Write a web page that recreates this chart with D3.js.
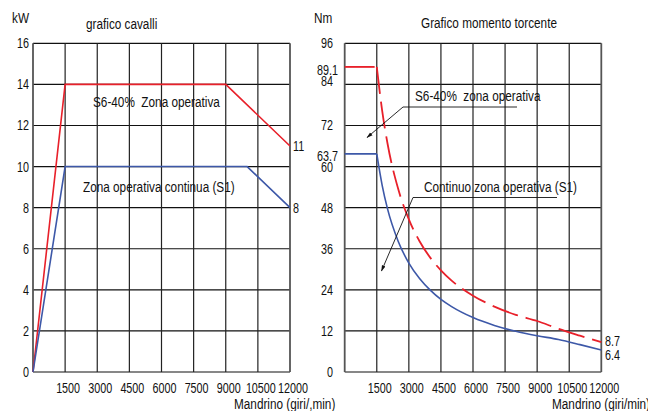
<!DOCTYPE html>
<html>
<head>
<meta charset="utf-8">
<script src="https://cdn.jsdelivr.net/npm/d3@7"></script>
<style>
  body { margin: 0; background: #fff; }
  svg text { font-family: "Liberation Sans", Arial, sans-serif; fill: #111; font-size: 14px; }
</style>
</head>
<body>
<svg></svg>
<script>
// two spindle charts: power (kW) and torque (Nm) vs spindle speed
const width = 648, height = 411;
const svg = d3.select("svg").attr("width", width).attr("height", height);

// data
const speedTicks = [1500, 3000, 4500, 6000, 7500, 9000, 10500, 12000];
const kwTicks = [0, 2, 4, 6, 8, 10, 12, 14, 16];
const nmTicks = [0, 12, 24, 36, 48, 60, 72, 84, 96];

const powerS6 = [[0, 0], [1500, 14], [9000, 14], [12000, 11]];
const powerS1 = [[0, 0], [1500, 10], [10000, 10], [12000, 8]];

const torqueS6Flat = [[0, 89.1], [1400, 89.1]];
const torqueS6 = [[1500, 89.1], [1750, 76.4], [2000, 66.8], [2500, 53.5], [3000, 44.6], [3500, 38.2], [4000, 33.4],
  [4500, 29.7], [5000, 26.7], [6000, 22.3], [7000, 19.1], [8000, 16.7], [9000, 14.9], [10000, 12.6], [11000, 10.6], [12000, 8.7]];
const torqueS1Flat = [[0, 63.7], [1500, 63.7]];
const torqueS1 = [[1500, 63.7], [1750, 54.6], [2000, 47.7], [2500, 38.2], [3000, 31.8], [3500, 27.3], [4000, 23.9],
  [4500, 21.2], [5000, 19.1], [6000, 15.9], [7000, 13.6], [8000, 11.9], [9000, 10.6], [10000, 9.5], [11000, 8.0], [12000, 6.4]];

const red = "#e8202a", blue = "#3d58a8";
const plotTop = 43.3, plotBottom = 372;

// arrow marker for the leader lines
svg.append("defs").append("marker")
  .attr("id", "arrow")
  .attr("viewBox", "0 0 10 10")
  .attr("refX", 9).attr("refY", 5)
  .attr("markerWidth", 7).attr("markerHeight", 7)
  .attr("orient", "auto")
  .append("path").attr("d", "M0,2L10,5L0,8z").attr("fill", "#111");

function makePanel(x0, x1, yMax, yTicks) {
  const x = d3.scaleLinear().domain([0, 12000]).range([x0, x1]);
  const y = d3.scaleLinear().domain([0, yMax]).range([plotBottom, plotTop]);
  const g = svg.append("g");

  // horizontal grid
  g.selectAll(".hg").data(yTicks).enter().append("line")
    .attr("x1", x0).attr("x2", x1)
    .attr("y1", d => y(d)).attr("y2", d => y(d))
    .attr("stroke", "#111").attr("stroke-width", 1.2);
  // vertical grid
  g.selectAll(".vg").data([0].concat(speedTicks)).enter().append("line")
    .attr("x1", d => x(d)).attr("x2", d => x(d))
    .attr("y1", plotTop).attr("y2", plotBottom)
    .attr("stroke", d => d === 0 || d === 12000 ? "#555" : "#222")
    .attr("stroke-width", d => d === 0 || d === 12000 ? 1.8 : 1.2);

  // x tick labels
  g.selectAll(".xl").data(speedTicks).enter().append("text")
    .attr("class", "num")
    .attr("x", d => x(d) + 3).attr("y", 393)
    .attr("text-anchor", "middle")
    .text(d => d);
  return { x, y, g };
}

const line = d3.line();
const curve = d3.line().curve(d3.curveMonotoneX);

// ---- left: power chart
const L = makePanel(33, 290, 16, kwTicks);
L.g.selectAll(".yl").data(kwTicks).enter().append("text")
  .attr("class", "num")
  .attr("x", 29).attr("y", d => L.y(d) + 5)
  .attr("text-anchor", "end")
  .text(d => d);

L.g.append("path").datum(powerS6.map(d => [L.x(d[0]), L.y(d[1])]))
  .attr("d", line).attr("fill", "none").attr("stroke", red).attr("stroke-width", 1.6);
L.g.append("path").datum(powerS1.map(d => [L.x(d[0]), L.y(d[1])]))
  .attr("d", line).attr("fill", "none").attr("stroke", blue).attr("stroke-width", 1.6);

L.g.append("text").attr("class", "num").attr("x", 293).attr("y", L.y(11) + 5).text("11");
L.g.append("text").attr("class", "num").attr("x", 293).attr("y", L.y(8) + 5).text("8");

svg.append("text").attr("x", 12).attr("y", 23).text("kW");
svg.append("text").attr("x", 86).attr("y", 29).text("grafico cavalli");
svg.append("text").attr("x", 93).attr("y", 107).attr("xml:space", "preserve").text("S6-40%  Zona operativa");
svg.append("text").attr("x", 83).attr("y", 192).text("Zona operativa continua (S1)");
svg.append("text").attr("x", 234).attr("y", 409).text("Mandrino (giri/,min)");

// ---- right: torque chart
const R = makePanel(344.7, 601.3, 96, nmTicks);
R.g.selectAll(".yl").data(nmTicks).enter().append("text")
  .attr("class", "num")
  .attr("x", 333).attr("y", d => R.y(d) + 5 - (d === 84 ? 3 : 0))
  .attr("text-anchor", "end")
  .text(d => d);
R.g.append("text").attr("class", "num").attr("x", 317).attr("y", R.y(89.1) + 8).text("89.1");
R.g.append("text").attr("class", "num").attr("x", 317).attr("y", R.y(63.7) + 7).text("63.7");

R.g.append("path").datum(torqueS6Flat.map(d => [R.x(d[0]), R.y(d[1])]))
  .attr("d", line).attr("fill", "none").attr("stroke", red).attr("stroke-width", 1.8);
R.g.append("path").datum(torqueS6.map(d => [R.x(d[0]), R.y(d[1])]))
  .attr("d", curve).attr("fill", "none").attr("stroke", red).attr("stroke-width", 1.8)
  .attr("stroke-dasharray", "27,8");
R.g.append("path").datum(torqueS1Flat.map(d => [R.x(d[0]), R.y(d[1])]))
  .attr("d", line).attr("fill", "none").attr("stroke", blue).attr("stroke-width", 1.6);
R.g.append("path").datum(torqueS1.map(d => [R.x(d[0]), R.y(d[1])]))
  .attr("d", curve).attr("fill", "none").attr("stroke", blue).attr("stroke-width", 1.6);

R.g.append("text").attr("class", "num").attr("x", 605).attr("y", R.y(8.7) + 4).text("8.7");
R.g.append("text").attr("class", "num").attr("x", 605).attr("y", R.y(6.4) + 10).text("6.4");

// leader lines with arrows
svg.append("path").attr("d", "M517,107H403L367,137.5")
  .attr("fill", "none").attr("stroke", "#111").attr("stroke-width", 0.9).attr("marker-end", "url(#arrow)");
svg.append("path").attr("d", "M557,197.5H413L381.5,271")
  .attr("fill", "none").attr("stroke", "#111").attr("stroke-width", 0.9).attr("marker-end", "url(#arrow)");

svg.append("text").attr("x", 314).attr("y", 23).text("Nm");
svg.append("text").attr("x", 421).attr("y", 28).text("Grafico momento torcente");
svg.append("text").attr("x", 415).attr("y", 101).attr("xml:space", "preserve").text("S6-40%  zona operativa");
svg.append("text").attr("x", 424).attr("y", 192).text("Continuo zona operativa (S1)");
svg.append("text").attr("x", 552).attr("y", 409).text("Mandrino (giri/min)");

// the reference uses a narrow face; squeeze labels (digits a bit more than words)
svg.selectAll("text").each(function() {
  const len = this.getComputedTextLength();
  const k = this.classList.contains("num") ? 0.77 : 0.84;
  d3.select(this).attr("textLength", len * k).attr("lengthAdjust", "spacingAndGlyphs");
});
</script>
</body>
</html>
